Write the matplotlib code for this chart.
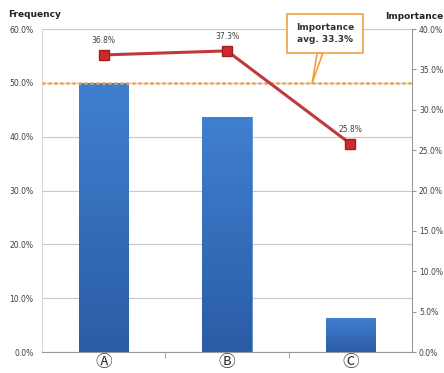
import numpy as np
import matplotlib
matplotlib.use("Agg")
import matplotlib.pyplot as plt
from matplotlib.ticker import FuncFormatter

plt.rcParams["font.family"] = ["DejaVu Sans", "Noto Sans CJK KR"]

# data
categories = ["Ⓐ", "Ⓑ", "Ⓒ"]
frequency = [50.0, 43.7, 6.3]      # left axis, %
importance = [36.8, 37.3, 25.8]    # right axis, %
importance_avg = 33.3
left_ticks = [0, 10, 20, 30, 40, 50, 60]
right_ticks = [0, 5, 10, 15, 20, 25, 30, 35, 40]

fig = plt.figure(figsize=(4.44, 3.73), dpi=100)
ax = fig.add_axes([0.0946, 0.0563, 0.8334, 0.8657])
x = np.arange(len(categories))

# bars with a vertical gradient
bar_w = 0.4
bars = ax.bar(x, frequency, width=bar_w, color="#3A70C0", edgecolor="#5B8FD6",
              linewidth=0.6, zorder=2)
grad = np.linspace(0, 1, 256).reshape(-1, 1)
cmap = matplotlib.colors.LinearSegmentedColormap.from_list("b", ["#2B5CA6", "#4080D0"])
for b in bars:
    x0, y0 = b.get_x(), b.get_y()
    im = ax.imshow(grad, extent=[x0, x0 + b.get_width(), y0, y0 + b.get_height()],
                   origin="lower", aspect="auto", cmap=cmap, zorder=2.1)
    im.set_clip_path(b)

ax.set_xlim(-0.5, 2.5)
ax.set_ylim(0, 60)
ax.set_yticks(left_ticks)
ax.yaxis.set_major_formatter(FuncFormatter(lambda v, p: f"{v:.1f}%"))
ax.grid(axis="y", color="#C8C8C8", linewidth=0.8, zorder=0)
ax.set_xticks(x)
ax.set_xticklabels(categories, fontsize=12, color="#333333")
ax.set_xticks([0.5, 1.5], minor=True)
ax.tick_params(axis="x", which="major", length=0, pad=1)
ax.tick_params(axis="x", which="minor", length=4, color="#999999")
ax.tick_params(axis="y", length=0, labelsize=5.5, labelcolor="#404040", pad=6)
for s in ["top", "right"]:
    ax.spines[s].set_visible(False)
ax.spines["left"].set_color("#D8D8D8")
ax.spines["bottom"].set_color("#999999")

ax2 = ax.twinx()
ax2.set_ylim(0, 40)
ax2.set_yticks(right_ticks)
ax2.yaxis.set_major_formatter(FuncFormatter(lambda v, p: f"{v:.1f}%"))
ax2.tick_params(axis="y", length=3, color="#999999", labelsize=5.5,
                labelcolor="#404040", pad=2)
for s in ["top", "left", "bottom"]:
    ax2.spines[s].set_visible(False)
ax2.spines["right"].set_color("#999999")

ax2.axhline(importance_avg, color="#F0A050", linestyle=(0, (1.2, 1.2)),
            linewidth=1.8, zorder=3)
ax2.plot(x, importance, color="#C0393B", linewidth=2.2, marker="s",
         markersize=7, markerfacecolor="#D0282C", markeredgecolor="#A02020",
         zorder=4)

for xi, v in zip(x, importance):
    ax2.annotate(f"{v:.1f}%", (xi, v), xytext=(0, 7), textcoords="offset points",
                 ha="center", va="bottom", fontsize=5.5, color="#404040")

ax2.annotate("Importance\navg. 33.3%", xy=(1.69, importance_avg),
             xytext=(1.795, 39.5), ha="center", va="center",
             fontsize=6.5, fontweight="bold", color="#333333", linespacing=1.4,
             bbox=dict(boxstyle="square,pad=1.0", fc="white", ec="#F0A040", lw=1.2),
             arrowprops=dict(arrowstyle="wedge,tail_width=0.6", fc="white",
                             ec="#F0A040", lw=1.2, shrinkA=0, shrinkB=0),
             zorder=6, annotation_clip=False)

fig.text(0.018, 0.96, "Frequency", fontsize=6.5, fontweight="bold",
         color="#222222", va="center")
fig.text(0.999, 0.955, "Importance", fontsize=6.5, fontweight="bold",
         color="#222222", ha="right", va="center")

fig.savefig("out.png", dpi=100)
